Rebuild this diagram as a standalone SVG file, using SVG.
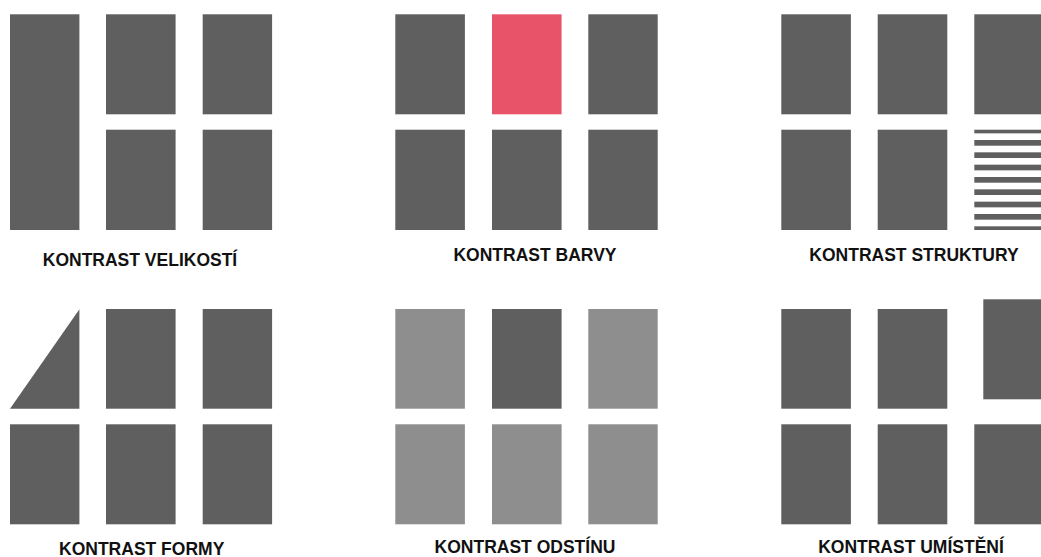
<svg xmlns="http://www.w3.org/2000/svg" width="1041" height="557" viewBox="0 0 1041 557">
  <defs>
    <style>
      .d { fill: #5f5f5f; }
      .r { fill: #e9536a; }
      .l { fill: #8e8e8e; }
      .t { font-family: "Liberation Sans", Arial, sans-serif; font-weight: bold; font-size: 17.5px; fill: #111; text-anchor: middle; }
    </style>
    <pattern id="stripes" patternUnits="userSpaceOnUse" x="0" y="127.67" width="20" height="12.33">
      <rect x="0" y="0" width="20" height="5.7" fill="#5f5f5f"/>
    </pattern>
  </defs>
  <rect width="1041" height="557" fill="#ffffff"/>

  <g id="velikost">
    <rect class="d" x="10" y="14.3" width="69.4" height="215.7"/>
    <rect class="d" x="106" y="14.3" width="69.6" height="100"/>
    <rect class="d" x="202.7" y="14.3" width="69.4" height="100"/>
    <rect class="d" x="106" y="129.7" width="69.6" height="100.3"/>
    <rect class="d" x="202.7" y="129.7" width="69.4" height="100.3"/>
    <text class="t" x="140" y="266">KONTRAST VELIKOSTÍ</text>
  </g>

  <g id="barva">
    <rect class="d" x="395.3" y="14.3" width="69.6" height="100"/>
    <rect class="r" x="492" y="14.3" width="69.6" height="100"/>
    <rect class="d" x="588.3" y="14.3" width="69.4" height="100"/>
    <rect class="d" x="395.3" y="129.7" width="69.6" height="100.3"/>
    <rect class="d" x="492" y="129.7" width="69.6" height="100.3"/>
    <rect class="d" x="588.3" y="129.7" width="69.4" height="100.3"/>
    <text class="t" x="535" y="261">KONTRAST BARVY</text>
  </g>

  <g id="struktura">
    <rect class="d" x="781.3" y="14.3" width="69.6" height="100"/>
    <rect class="d" x="877.7" y="14.3" width="69.6" height="100"/>
    <rect class="d" x="974.3" y="14.3" width="69.6" height="100"/>
    <rect class="d" x="781.3" y="129.7" width="69.6" height="100.3"/>
    <rect class="d" x="877.7" y="129.7" width="69.6" height="100.3"/>
    <rect fill="url(#stripes)" x="974.3" y="129.7" width="69.6" height="100.3"/>
    <text class="t" x="914" y="261">KONTRAST STRUKTURY</text>
  </g>

  <g id="forma">
    <polygon class="d" points="10,408.7 79.4,309.3 79.4,408.7"/>
    <rect class="d" x="106" y="309" width="69.6" height="99.7"/>
    <rect class="d" x="202.7" y="309" width="69.4" height="99.7"/>
    <rect class="d" x="10" y="424.3" width="69.4" height="100"/>
    <rect class="d" x="106" y="424.3" width="69.6" height="100"/>
    <rect class="d" x="202.7" y="424.3" width="69.4" height="100"/>
    <text class="t" x="141.7" y="554.5">KONTRAST FORMY</text>
  </g>

  <g id="odstin">
    <rect class="l" x="395.3" y="309" width="69.6" height="99.7"/>
    <rect class="d" x="492" y="309" width="69.6" height="99.7"/>
    <rect class="l" x="588.3" y="309" width="69.4" height="99.7"/>
    <rect class="l" x="395.3" y="424.3" width="69.6" height="100"/>
    <rect class="l" x="492" y="424.3" width="69.6" height="100"/>
    <rect class="l" x="588.3" y="424.3" width="69.4" height="100"/>
    <text class="t" x="525" y="553">KONTRAST ODSTÍNU</text>
  </g>

  <g id="umisteni">
    <rect class="d" x="781.3" y="309" width="69.6" height="99.7"/>
    <rect class="d" x="877.7" y="309" width="69.6" height="99.7"/>
    <rect class="d" x="983.3" y="299.3" width="69.6" height="100"/>
    <rect class="d" x="781.3" y="424.3" width="69.6" height="100"/>
    <rect class="d" x="877.7" y="424.3" width="69.6" height="100"/>
    <rect class="d" x="974.3" y="424.3" width="69.6" height="100"/>
    <text class="t" x="911" y="553">KONTRAST UMÍSTĚNÍ</text>
  </g>

  <g id="connectors"/>
</svg>
